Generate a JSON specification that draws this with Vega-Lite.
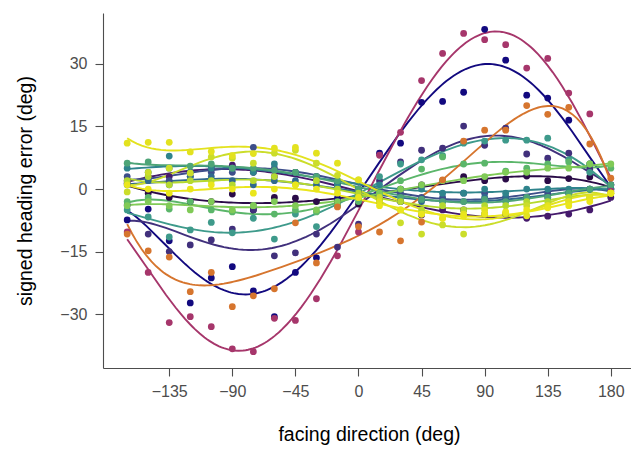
{
"$schema": "https://vega.github.io/schema/vega-lite/v6.json",
"width": 532, "height": 355,
"autosize": {"type": "none"},
"padding": {"left": 103, "top": 13, "right": 0, "bottom": 83},
"config": {
  "view": {"stroke": null},
  "font": "Liberation Sans",
  "axis": {"grid": false, "domainColor": "#4d4d4d", "tickColor": "#4d4d4d", "domainWidth": 1.1, "tickWidth": 1.1, "labelColor": "#4d4d4d", "labelFontSize": 16, "titleFontSize": 19.5, "titleFontWeight": "normal", "titleColor": "#000", "tickSize": 8}
},
"datasets": {"pts": [
{"s":"K","x":-165,"y":1.4},{"s":"K","x":-150,"y":-1},{"s":"K","x":-135,"y":-2},{"s":"K","x":-120,"y":-3},{"s":"K","x":-105,"y":-3},{"s":"K","x":-90,"y":-1.2},{"s":"K","x":-75,"y":-5},{"s":"K","x":-60,"y":-2},{"s":"K","x":-45,"y":-2.2},{"s":"K","x":-30,"y":-3},{"s":"K","x":-15,"y":-3},{"s":"K","x":0,"y":-3.6},{"s":"K","x":15,"y":-1},{"s":"K","x":30,"y":0},{"s":"K","x":45,"y":1},{"s":"K","x":60,"y":2},{"s":"K","x":75,"y":3},{"s":"K","x":90,"y":2},{"s":"K","x":105,"y":2.4},{"s":"K","x":120,"y":3.1},{"s":"K","x":135,"y":2},{"s":"K","x":150,"y":2.5},{"s":"K","x":165,"y":2.9},{"s":"K","x":180,"y":0},
{"s":"L","x":-165,"y":2},{"s":"L","x":-150,"y":3},{"s":"L","x":-135,"y":3},{"s":"L","x":-120,"y":4},{"s":"L","x":-105,"y":5},{"s":"L","x":-90,"y":5.7},{"s":"L","x":-75,"y":4},{"s":"L","x":-60,"y":3},{"s":"L","x":-45,"y":4},{"s":"L","x":-30,"y":3},{"s":"L","x":-15,"y":1},{"s":"L","x":0,"y":-1},{"s":"L","x":15,"y":-3},{"s":"L","x":30,"y":-3},{"s":"L","x":45,"y":-6.2},{"s":"L","x":60,"y":-5},{"s":"L","x":75,"y":-5},{"s":"L","x":90,"y":-6},{"s":"L","x":105,"y":-6},{"s":"L","x":120,"y":-7},{"s":"L","x":135,"y":-6.5},{"s":"L","x":150,"y":-6},{"s":"L","x":165,"y":-5},{"s":"L","x":180,"y":-2},
{"s":"B","x":-165,"y":-7.4},{"s":"B","x":-150,"y":-4.8},{"s":"B","x":-135,"y":-12.4},{"s":"B","x":-120,"y":-27.3},{"s":"B","x":-105,"y":-21.3},{"s":"B","x":-90,"y":-18.6},{"s":"B","x":-75,"y":-24.4},{"s":"B","x":-60,"y":-30.6},{"s":"B","x":-45,"y":-20},{"s":"B","x":-30,"y":-16.5},{"s":"B","x":-15,"y":-2.2},{"s":"B","x":0,"y":0},{"s":"B","x":15,"y":8.6},{"s":"B","x":30,"y":11},{"s":"B","x":45,"y":20.8},{"s":"B","x":60,"y":21},{"s":"B","x":75,"y":23.2},{"s":"B","x":90,"y":38.3},{"s":"B","x":105,"y":30.9},{"s":"B","x":120,"y":22.5},{"s":"B","x":135,"y":21.8},{"s":"B","x":150,"y":16.5},{"s":"B","x":165,"y":6},{"s":"B","x":180,"y":1},
{"s":"D","x":-165,"y":-3.8},{"s":"D","x":-150,"y":-10.8},{"s":"D","x":-135,"y":-15},{"s":"D","x":-120,"y":-13.4},{"s":"D","x":-105,"y":-12.2},{"s":"D","x":-90,"y":-9.6},{"s":"D","x":-75,"y":-5},{"s":"D","x":-60,"y":-16},{"s":"D","x":-45,"y":-15.3},{"s":"D","x":-30,"y":-10.8},{"s":"D","x":-15,"y":-13.9},{"s":"D","x":0,"y":-8.4},{"s":"D","x":15,"y":2},{"s":"D","x":30,"y":6.5},{"s":"D","x":45,"y":9.3},{"s":"D","x":60,"y":9.8},{"s":"D","x":75,"y":15.1},{"s":"D","x":90,"y":10.5},{"s":"D","x":105,"y":14.6},{"s":"D","x":120,"y":8.4},{"s":"D","x":135,"y":7.4},{"s":"D","x":150,"y":8.6},{"s":"D","x":165,"y":4.8},{"s":"D","x":180,"y":1},
{"s":"M","x":-165,"y":3},{"s":"M","x":-150,"y":2.5},{"s":"M","x":-135,"y":2},{"s":"M","x":-120,"y":3},{"s":"M","x":-105,"y":4},{"s":"M","x":-90,"y":4},{"s":"M","x":-75,"y":10},{"s":"M","x":-60,"y":5},{"s":"M","x":-45,"y":4},{"s":"M","x":-30,"y":3},{"s":"M","x":-15,"y":1},{"s":"M","x":0,"y":0},{"s":"M","x":15,"y":-1},{"s":"M","x":30,"y":-1},{"s":"M","x":45,"y":-2},{"s":"M","x":60,"y":-2},{"s":"M","x":75,"y":-1},{"s":"M","x":90,"y":-1},{"s":"M","x":105,"y":-2},{"s":"M","x":120,"y":-2},{"s":"M","x":135,"y":-1},{"s":"M","x":150,"y":-1},{"s":"M","x":165,"y":0},{"s":"M","x":180,"y":0},
{"s":"N","x":-165,"y":1},{"s":"N","x":-150,"y":2},{"s":"N","x":-135,"y":1},{"s":"N","x":-120,"y":3},{"s":"N","x":-105,"y":3},{"s":"N","x":-90,"y":2},{"s":"N","x":-75,"y":1},{"s":"N","x":-60,"y":2},{"s":"N","x":-45,"y":2},{"s":"N","x":-30,"y":1},{"s":"N","x":-15,"y":1},{"s":"N","x":0,"y":0},{"s":"N","x":15,"y":-2},{"s":"N","x":30,"y":-3},{"s":"N","x":45,"y":-3},{"s":"N","x":60,"y":-3},{"s":"N","x":75,"y":-3},{"s":"N","x":90,"y":-2},{"s":"N","x":105,"y":-2},{"s":"N","x":120,"y":-2},{"s":"N","x":135,"y":-2},{"s":"N","x":150,"y":-1},{"s":"N","x":165,"y":0},{"s":"N","x":180,"y":0},
{"s":"P","x":-165,"y":5},{"s":"P","x":-150,"y":4},{"s":"P","x":-135,"y":7.9},{"s":"P","x":-120,"y":4},{"s":"P","x":-105,"y":5},{"s":"P","x":-90,"y":5},{"s":"P","x":-75,"y":4},{"s":"P","x":-60,"y":6},{"s":"P","x":-45,"y":4},{"s":"P","x":-30,"y":3},{"s":"P","x":-15,"y":1},{"s":"P","x":0,"y":0},{"s":"P","x":15,"y":1},{"s":"P","x":30,"y":0},{"s":"P","x":45,"y":0},{"s":"P","x":60,"y":-1},{"s":"P","x":75,"y":-1},{"s":"P","x":90,"y":0},{"s":"P","x":105,"y":-1},{"s":"P","x":120,"y":0},{"s":"P","x":135,"y":0},{"s":"P","x":150,"y":0},{"s":"P","x":165,"y":0},{"s":"P","x":180,"y":0},
{"s":"E","x":-165,"y":-5},{"s":"E","x":-150,"y":-6.7},{"s":"E","x":-135,"y":-11.5},{"s":"E","x":-120,"y":-9.8},{"s":"E","x":-105,"y":-8},{"s":"E","x":-90,"y":-10.5},{"s":"E","x":-75,"y":-7},{"s":"E","x":-60,"y":-12},{"s":"E","x":-45,"y":-6},{"s":"E","x":-30,"y":-9},{"s":"E","x":-15,"y":-4},{"s":"E","x":0,"y":-2},{"s":"E","x":15,"y":3},{"s":"E","x":30,"y":6},{"s":"E","x":45,"y":7},{"s":"E","x":60,"y":8},{"s":"E","x":75,"y":11},{"s":"E","x":90,"y":11.5},{"s":"E","x":105,"y":11.7},{"s":"E","x":120,"y":11.7},{"s":"E","x":135,"y":12.2},{"s":"E","x":150,"y":7},{"s":"E","x":165,"y":4},{"s":"E","x":180,"y":1},
{"s":"O","x":-165,"y":6.2},{"s":"O","x":-150,"y":6.5},{"s":"O","x":-135,"y":5},{"s":"O","x":-120,"y":5.5},{"s":"O","x":-105,"y":6},{"s":"O","x":-90,"y":5},{"s":"O","x":-75,"y":5},{"s":"O","x":-60,"y":4.5},{"s":"O","x":-45,"y":4},{"s":"O","x":-30,"y":3},{"s":"O","x":-15,"y":2},{"s":"O","x":0,"y":0},{"s":"O","x":15,"y":-1},{"s":"O","x":30,"y":-2},{"s":"O","x":45,"y":-2.5},{"s":"O","x":60,"y":-3},{"s":"O","x":75,"y":-3},{"s":"O","x":90,"y":-2.5},{"s":"O","x":105,"y":-3},{"s":"O","x":120,"y":-2},{"s":"O","x":135,"y":-2},{"s":"O","x":150,"y":-1},{"s":"O","x":165,"y":0},{"s":"O","x":180,"y":1},
{"s":"A","x":-165,"y":-10.3},{"s":"A","x":-150,"y":-20},{"s":"A","x":-135,"y":-32},{"s":"A","x":-120,"y":-30.6},{"s":"A","x":-105,"y":-33},{"s":"A","x":-90,"y":-38.3},{"s":"A","x":-75,"y":-39},{"s":"A","x":-60,"y":-31},{"s":"A","x":-45,"y":-31.5},{"s":"A","x":-30,"y":-26.3},{"s":"A","x":-15,"y":-16},{"s":"A","x":0,"y":-10.3},{"s":"A","x":15,"y":8.1},{"s":"A","x":30,"y":13.6},{"s":"A","x":45,"y":26},{"s":"A","x":60,"y":32.5},{"s":"A","x":75,"y":37.3},{"s":"A","x":90,"y":35.8},{"s":"A","x":105,"y":34.6},{"s":"A","x":120,"y":29},{"s":"A","x":135,"y":31.3},{"s":"A","x":150,"y":23},{"s":"A","x":165,"y":18},{"s":"A","x":180,"y":-0.5},
{"s":"F","x":-165,"y":-3},{"s":"F","x":-150,"y":-2},{"s":"F","x":-135,"y":-4.8},{"s":"F","x":-120,"y":-3},{"s":"F","x":-105,"y":-5},{"s":"F","x":-90,"y":-5.5},{"s":"F","x":-75,"y":-4},{"s":"F","x":-60,"y":-6},{"s":"F","x":-45,"y":-5},{"s":"F","x":-30,"y":-5.5},{"s":"F","x":-15,"y":-4},{"s":"F","x":0,"y":-3},{"s":"F","x":15,"y":-1},{"s":"F","x":30,"y":2},{"s":"F","x":45,"y":4.8},{"s":"F","x":60,"y":7.7},{"s":"F","x":75,"y":6},{"s":"F","x":90,"y":6.2},{"s":"F","x":105,"y":4.3},{"s":"F","x":120,"y":5},{"s":"F","x":135,"y":6},{"s":"F","x":150,"y":6.5},{"s":"F","x":165,"y":6},{"s":"F","x":180,"y":5},
{"s":"G","x":-165,"y":-4},{"s":"G","x":-150,"y":-3},{"s":"G","x":-135,"y":-4},{"s":"G","x":-120,"y":-5},{"s":"G","x":-105,"y":-3},{"s":"G","x":-90,"y":-5},{"s":"G","x":-75,"y":-4},{"s":"G","x":-60,"y":-3},{"s":"G","x":-45,"y":-4},{"s":"G","x":-30,"y":-5},{"s":"G","x":-15,"y":-3},{"s":"G","x":0,"y":-2},{"s":"G","x":15,"y":-1},{"s":"G","x":30,"y":0},{"s":"G","x":45,"y":1},{"s":"G","x":60,"y":2},{"s":"G","x":75,"y":2},{"s":"G","x":90,"y":3},{"s":"G","x":105,"y":4},{"s":"G","x":120,"y":4},{"s":"G","x":135,"y":5},{"s":"G","x":150,"y":5},{"s":"G","x":165,"y":6},{"s":"G","x":180,"y":6},
{"s":"C","x":-165,"y":-10.8},{"s":"C","x":-150,"y":-14.8},{"s":"C","x":-135,"y":-16.3},{"s":"C","x":-120,"y":-24.6},{"s":"C","x":-105,"y":-20},{"s":"C","x":-90,"y":-28.2},{"s":"C","x":-75,"y":-25.6},{"s":"C","x":-60,"y":-23.9},{"s":"C","x":-45,"y":-8.1},{"s":"C","x":-30,"y":-17.7},{"s":"C","x":-15,"y":-4.3},{"s":"C","x":0,"y":-9},{"s":"C","x":15,"y":-10.3},{"s":"C","x":30,"y":-12.4},{"s":"C","x":45,"y":-7.9},{"s":"C","x":60,"y":2.2},{"s":"C","x":75,"y":11.5},{"s":"C","x":90,"y":14.1},{"s":"C","x":105,"y":14.1},{"s":"C","x":120,"y":20},{"s":"C","x":135,"y":17.9},{"s":"C","x":150,"y":19.6},{"s":"C","x":165,"y":10.8},{"s":"C","x":180,"y":2.6},
{"s":"Q","x":-165,"y":2},{"s":"Q","x":-150,"y":3},{"s":"Q","x":-135,"y":1},{"s":"Q","x":-120,"y":2},{"s":"Q","x":-105,"y":2},{"s":"Q","x":-90,"y":1},{"s":"Q","x":-75,"y":2},{"s":"Q","x":-60,"y":3},{"s":"Q","x":-45,"y":1},{"s":"Q","x":-30,"y":2},{"s":"Q","x":-15,"y":0},{"s":"Q","x":0,"y":-1},{"s":"Q","x":15,"y":-3},{"s":"Q","x":30,"y":-3},{"s":"Q","x":45,"y":-5},{"s":"Q","x":60,"y":-4},{"s":"Q","x":75,"y":-5},{"s":"Q","x":90,"y":-4},{"s":"Q","x":105,"y":-4},{"s":"Q","x":120,"y":-3},{"s":"Q","x":135,"y":-3},{"s":"Q","x":150,"y":-2},{"s":"Q","x":165,"y":-2},{"s":"Q","x":180,"y":-1},
{"s":"I","x":-165,"y":-0.7},{"s":"I","x":-150,"y":4},{"s":"I","x":-135,"y":5},{"s":"I","x":-120,"y":3.8},{"s":"I","x":-105,"y":7.7},{"s":"I","x":-90,"y":7.4},{"s":"I","x":-75,"y":6.2},{"s":"I","x":-60,"y":8.6},{"s":"I","x":-45,"y":9.3},{"s":"I","x":-30,"y":6.2},{"s":"I","x":-15,"y":3.3},{"s":"I","x":0,"y":2.2},{"s":"I","x":15,"y":-2},{"s":"I","x":30,"y":-8.1},{"s":"I","x":45,"y":-10.8},{"s":"I","x":60,"y":-8.6},{"s":"I","x":75,"y":-10.8},{"s":"I","x":90,"y":-6},{"s":"I","x":105,"y":-6},{"s":"I","x":120,"y":-4},{"s":"I","x":135,"y":-4},{"s":"I","x":150,"y":-3},{"s":"I","x":165,"y":-2},{"s":"I","x":180,"y":-1},
{"s":"H","x":-165,"y":11},{"s":"H","x":-150,"y":11.2},{"s":"H","x":-135,"y":11.2},{"s":"H","x":-120,"y":8.9},{"s":"H","x":-105,"y":9},{"s":"H","x":-90,"y":8},{"s":"H","x":-75,"y":8.5},{"s":"H","x":-60,"y":9.8},{"s":"H","x":-45,"y":10},{"s":"H","x":-30,"y":8.6},{"s":"H","x":-15,"y":6.2},{"s":"H","x":0,"y":2.2},{"s":"H","x":15,"y":-3},{"s":"H","x":30,"y":-5},{"s":"H","x":45,"y":-6},{"s":"H","x":60,"y":-7},{"s":"H","x":75,"y":-6},{"s":"H","x":90,"y":-5},{"s":"H","x":105,"y":-5.7},{"s":"H","x":120,"y":-6.4},{"s":"H","x":135,"y":-4},{"s":"H","x":150,"y":-3},{"s":"H","x":165,"y":-2},{"s":"H","x":180,"y":-1},
{"s":"J","x":-165,"y":1},{"s":"J","x":-150,"y":0},{"s":"J","x":-135,"y":-1},{"s":"J","x":-120,"y":0},{"s":"J","x":-105,"y":1},{"s":"J","x":-90,"y":0},{"s":"J","x":-75,"y":-1},{"s":"J","x":-60,"y":0},{"s":"J","x":-45,"y":1},{"s":"J","x":-30,"y":0},{"s":"J","x":-15,"y":-1},{"s":"J","x":0,"y":-2},{"s":"J","x":15,"y":-4},{"s":"J","x":30,"y":-5},{"s":"J","x":45,"y":-6},{"s":"J","x":60,"y":-7},{"s":"J","x":75,"y":-6.5},{"s":"J","x":90,"y":-6},{"s":"J","x":105,"y":-5.5},{"s":"J","x":120,"y":-5},{"s":"J","x":135,"y":-4.5},{"s":"J","x":150,"y":-4},{"s":"J","x":165,"y":-3},{"s":"J","x":180,"y":-1}
]},
"data": {"name": "pts"},
"encoding": {
  "x": {"field": "x", "type": "quantitative", "scale": {"domain": [-182.25, 197.25], "nice": false, "zero": false},
        "axis": {"values": [-135, -90, -45, 0, 45, 90, 135, 180], "title": "facing direction (deg)", "labelPadding": 7, "titlePadding": 26, "labelFlush": false}},
  "y": {"field": "y", "type": "quantitative", "scale": {"domain": [-42.9, 42.2], "nice": false, "zero": false},
        "axis": {"values": [-30, -15, 0, 15, 30], "title": "signed heading error (deg)", "labelPadding": 8, "titlePadding": 24}},
  "color": {"field": "s", "type": "nominal", "legend": null,
    "scale": {"domain": ["K","L","B","D","M","N","P","E","O","A","F","G","C","Q","I","H","J"],
              "range": ["#2A0B47","#451A6C","#12097F","#41307C","#3D4E8A","#30698E","#2F848C","#3E9A8B","#4EA477","#A6366B","#5BB66A","#80CA57","#D6752E","#B5D92F","#CBDD2A","#E3E21F","#EAE61C"]}}
},
"layer": [
  {"transform": [{"regression": "y", "on": "x", "groupby": ["s"], "method": "poly", "order": 5}],
   "mark": {"type": "line", "strokeWidth": 1.9}},
  {"mark": {"type": "circle", "size": 46, "opacity": 1}}
]
}
